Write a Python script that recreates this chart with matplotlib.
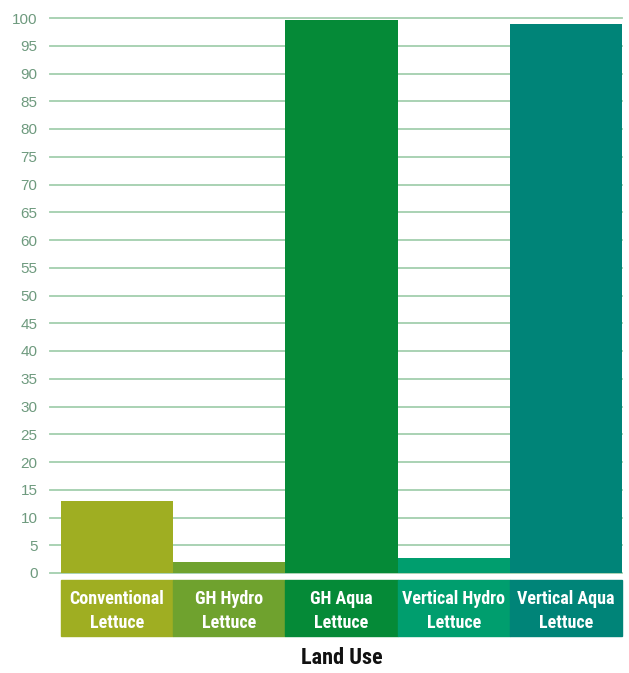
import matplotlib.pyplot as plt
from matplotlib import font_manager
from matplotlib.patches import Rectangle

# Land use per lettuce production system
categories = ['Conventional\nLettuce', 'GH Hydro\nLettuce', 'GH Aqua\nLettuce',
              'Vertical Hydro\nLettuce', 'Vertical Aqua\nLettuce']
values = [13, 2, 99.6, 2.7, 99]
colors = ['#9fae22', '#6fa22e', '#058a37', '#009e6e', '#008478']
yticks = list(range(0, 101, 5))

# look for a bold condensed face for the labels
pref = ['Liberation Sans Narrow', 'Roboto Condensed', 'Open Sans Condensed',
        'Noto Sans Condensed']
bold_cond = [f for f in font_manager.fontManager.ttflist
             if ('Narrow' in f.name or 'Condensed' in f.name)
             and f.weight in (700, 'bold') and f.style == 'normal']
bold_cond.sort(key=lambda f: pref.index(f.name) if f.name in pref else 99)
if bold_cond:
    lab_font = font_manager.FontProperties(fname=bold_cond[0].fname, size=13)
    title_font = font_manager.FontProperties(fname=bold_cond[0].fname, size=16)
    spacing = 1.45
else:
    lab_font = font_manager.FontProperties(family='Liberation Sans', weight='bold', size=11)
    title_font = font_manager.FontProperties(family='Liberation Sans', weight='bold', size=13)
    spacing = 1.6

fig = plt.figure(figsize=(6.29, 6.73), dpi=100)
ax = fig.add_axes([50 / 629, 100 / 673, 572 / 629, 555 / 673])

x = list(range(len(categories)))
ax.bar(x, values, width=1.0, color=colors, zorder=3)

ax.set_xlim(-0.5 - 11 / 112, 4.5)
ax.set_ylim(0, 100)
ax.set_yticks(yticks)
ax.set_yticklabels([str(t) for t in yticks], fontsize=11, color='#6e9a7e',
                   family=['Liberation Sans', 'DejaVu Sans'])
ax.tick_params(axis='y', length=0, pad=9)
ax.set_xticks([])
for t in yticks:
    ax.axhline(t, color='#a3cfae', lw=1.3, zorder=1, clip_on=False)
for s in ax.spines.values():
    s.set_visible(False)

# coloured label boxes under each bar
trans = ax.get_xaxis_transform()
for xi, lab, c in zip(x, categories, colors):
    ax.add_patch(Rectangle((xi - 0.5, -0.1135), 1.0, 0.101, transform=trans,
                           color=c, clip_on=False))
    ax.text(xi, -0.069, lab, transform=trans, ha='center', va='center',
            color='white', fontproperties=lab_font, linespacing=spacing)

fig.text(342 / 629, 1 - 658 / 673, 'Land Use', ha='center', va='center',
         fontproperties=title_font, color='#111111')

fig.savefig('out.png', dpi=100)
